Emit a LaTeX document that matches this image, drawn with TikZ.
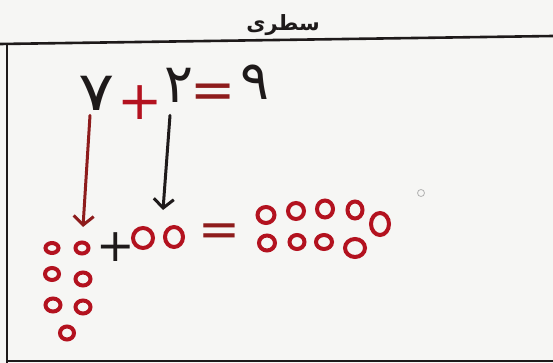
\documentclass[tikz,border=0pt]{standalone}
\usepackage{fontspec}
\usetikzlibrary{arrows.meta}
\TeXXeTstate=1
\newfontfamily\arabicfont[Script=Arabic]{DejaVu Sans}
\newfontfamily\symfont{DejaVu Sans}
\definecolor{inkred}{HTML}{B3121F}
\definecolor{inkdark}{HTML}{1E1A1A}
\definecolor{inkmaroon}{HTML}{8E1C1C}
\definecolor{paper}{HTML}{F6F6F4}
\tikzset{
  digit/.style={inner sep=0pt, text=inkdark, font=\arabicfont\fontsize{54}{54}\selectfont},
  sym/.style={inner sep=0pt, font=\symfont\fontsize{54}{54}\selectfont},
  bead/.style={draw=inkred, line width=4pt},
  arr/.style={line width=3pt, line cap=round, -{Straight Barb[length=9pt,width=20pt,line width=3pt]}},
  frame/.style={draw=inkdark, line width=2.6pt}
}
\begin{document}
\begin{tikzpicture}[x=1pt,y=-1pt]
\fill[paper] (0,0) rectangle (553,363);
\useasboundingbox (0,0) rectangle (553,363);
% frame
\coordinate (tl) at (0,44);
\coordinate (tr) at (553,36);
\coordinate (lt) at (7,43);
\coordinate (lb) at (7,363);
\coordinate (bl) at (7,361);
\coordinate (br) at (553,361);
\draw[frame] (tl) -- (tr);
\draw[frame] (lt) -- (lb);
\draw[draw=inkdark, line width=1.8pt] (bl) -- (br);
% title
\node[inner sep=0pt, text=inkdark, font=\arabicfont\bfseries\fontsize{21}{21}\selectfont] (title) at (283,25) {\beginR سطری\endR};
% equation
\node[digit, xscale=1.25] (d7) at (97,93) {۷};
\node[sym, text=inkred] (plus) at (140,103) {+};
\node[digit] (d2) at (179,85) {۲};
\node[sym, text=inkmaroon] (eq) at (213,96) {=};
\node[digit] (d9) at (255,82) {۹};
% arrows
\coordinate (a1) at (83,227);
\coordinate (a2) at (163,210);
\draw[arr, inkmaroon] ([shift={(-7,5)}]d7.south) -- (a1);
\draw[arr, inkdark] ([shift={(-9,13)}]d2.south) -- (a2);
% left group (7)
\draw[bead] (52,248) ellipse (6.5pt and 5pt);
\draw[bead] (82,248) ellipse (6.5pt and 5.5pt);
\draw[bead] (52,274) ellipse (7pt and 6pt);
\draw[bead] (83,279) ellipse (7.5pt and 6.5pt);
\draw[bead] (53,305) ellipse (7.5pt and 6.5pt);
\draw[bead] (83,307) ellipse (7.5pt and 6.5pt);
\draw[bead] (67,333) ellipse (7pt and 6.5pt);
% plus
\node[sym, text=inkdark, font=\symfont\fontsize{46}{46}\selectfont] (plus2) at (116,247) {+};
% second group (2)
\draw[bead] (143,238) ellipse (10pt and 10pt);
\draw[bead] (174,237) ellipse (9pt and 10pt);
% equals
\node[sym, text=inkmaroon, font=\symfont\fontsize{50}{50}\selectfont] (eq2) at (219,235) {=};
% result (9)
\draw[bead] (266,215) ellipse (8.5pt and 8pt);
\draw[bead] (296,211) ellipse (8pt and 8pt);
\draw[bead] (325,209) ellipse (8pt and 8.5pt);
\draw[bead] (355,210) ellipse (7.5pt and 8.5pt);
\draw[bead] (267,243) ellipse (8pt and 7.5pt);
\draw[bead] (297,242) ellipse (7.5pt and 7pt);
\draw[bead] (324,242) ellipse (8pt and 7pt);
\draw[bead] (355,248) ellipse (10pt and 9pt);
\draw[bead] (380,224) ellipse (9pt and 11pt);
% faint mark
\draw[gray!60, line width=0.8pt] (421,193) circle (3.5pt);
\end{tikzpicture}
\end{document}
